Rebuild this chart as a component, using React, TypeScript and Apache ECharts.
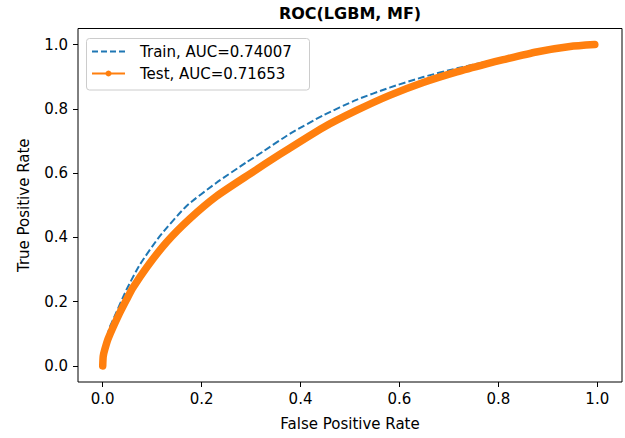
import React, { useEffect, useRef } from "react";
import * as echarts from "echarts";

const trainFpr = [0, 0.002, 0.008, 0.014, 0.021, 0.048, 0.075, 0.115, 0.169, 0.23, 0.29, 0.324, 0.378, 0.446, 0.513, 0.58, 0.648, 0.716, 0.81, 0.877, 0.945, 1.0];
const trainTpr = [0, 0.04, 0.085, 0.12, 0.144, 0.237, 0.315, 0.403, 0.497, 0.57, 0.633, 0.667, 0.722, 0.78, 0.828, 0.866, 0.899, 0.926, 0.958, 0.979, 0.995, 1.0];

const testFpr = [0, 0.001, 0.004, 0.011, 0.034, 0.048, 0.061, 0.088, 0.129, 0.176, 0.23, 0.297, 0.358, 0.446, 0.513, 0.58, 0.648, 0.716, 0.776, 0.81, 0.877, 0.945, 0.995];
const testTpr = [0, 0.03, 0.05, 0.085, 0.164, 0.206, 0.243, 0.305, 0.385, 0.458, 0.528, 0.597, 0.658, 0.742, 0.795, 0.842, 0.882, 0.915, 0.94, 0.953, 0.977, 0.994, 1.0];

const tickValues = [0, 0.2, 0.4, 0.6, 0.8, 1.0];
const trainLabel = "Train, AUC=0.74007";
const testLabel = "Test, AUC=0.71653";
const titleText = "ROC(LGBM, MF)";

const FONT = "DejaVu Sans";
const FS = 15;

export default function App() {
  const ref = useRef<HTMLDivElement>(null);
  useEffect(() => {
    document.body.style.margin = "0";
    const chart = echarts.init(ref.current!, null, { renderer: "svg" });
    const axisCommon = {
      type: "value" as const,
      min: -0.05,
      max: 1.05,
      splitLine: { show: false },
      axisLine: { show: false, onZero: false },
      axisTick: { show: true, length: 5, customValues: tickValues, lineStyle: { color: "#000", width: 1 } },
      axisLabel: {
        customValues: tickValues,
        formatter: (v: number) => v.toFixed(1),
        color: "#000",
        fontFamily: FONT,
        fontSize: FS,
      },
      nameLocation: "middle" as const,
      nameTextStyle: { color: "#000", fontFamily: FONT, fontSize: FS },
    };
    chart.setOption({
      animation: false,
      backgroundColor: "#fff",
      title: {
        text: titleText,
        left: 350,
        textAlign: "center",
        top: 5,
        padding: 0,
        textStyle: { fontFamily: FONT, fontSize: 16, fontWeight: "bold", color: "#000" },
      },
      grid: {
        left: 78,
        right: 3,
        top: 28.5,
        bottom: 56,
        show: true,
        borderColor: "#000",
        borderWidth: 1,
        backgroundColor: "transparent",
      },
      xAxis: {
        ...axisCommon,
        name: "False Positive Rate",
        nameGap: 34,
        axisLabel: { ...axisCommon.axisLabel, margin: 9 },
      },
      yAxis: {
        ...axisCommon,
        name: "True Positive Rate",
        nameGap: 47,
        axisLabel: { ...axisCommon.axisLabel, margin: 10 },
      },
      series: [
        {
          type: "line",
          name: trainLabel,
          data: trainFpr.map((x, i) => [x, trainTpr[i]]),
          showSymbol: false,
          smooth: 0.2,
          lineStyle: { color: "#1f77b4", width: 2, type: [7, 3] },
          z: 2,
        },
        {
          type: "line",
          name: testLabel,
          data: testFpr.map((x, i) => [x, testTpr[i]]),
          showSymbol: false,
          smooth: 0.2,
          lineStyle: { color: "#ff7f0e", width: 7.5, cap: "round", join: "round" },
          z: 3,
        },
      ],
      graphic: [
        {
          type: "rect",
          shape: { x: 86.5, y: 38.5, width: 223, height: 51.5, r: 3 },
          style: { fill: "rgba(255,255,255,0.8)", stroke: "#cccccc", lineWidth: 1 },
          z: 100,
        },
        {
          type: "line",
          shape: { x1: 92, y1: 51.5, x2: 125, y2: 51.5 },
          style: { stroke: "#1f77b4", lineWidth: 2, lineDash: [6, 3] },
          z: 101,
        },
        {
          type: "line",
          shape: { x1: 92, y1: 73.5, x2: 125, y2: 73.5 },
          style: { stroke: "#ff7f0e", lineWidth: 2 },
          z: 101,
        },
        {
          type: "circle",
          shape: { cx: 108.5, cy: 73.5, r: 3 },
          style: { fill: "#ff7f0e" },
          z: 102,
        },
        {
          type: "text",
          x: 140,
          y: 51.5,
          style: { text: trainLabel, fontFamily: FONT, fontSize: FS, fill: "#000", verticalAlign: "middle" },
          z: 101,
        },
        {
          type: "text",
          x: 140,
          y: 73.5,
          style: { text: testLabel, fontFamily: FONT, fontSize: FS, fill: "#000", verticalAlign: "middle" },
          z: 101,
        },
      ],
    });
    return () => chart.dispose();
  }, []);
  return <div ref={ref} style={{ width: 625, height: 438 }} />;
}
